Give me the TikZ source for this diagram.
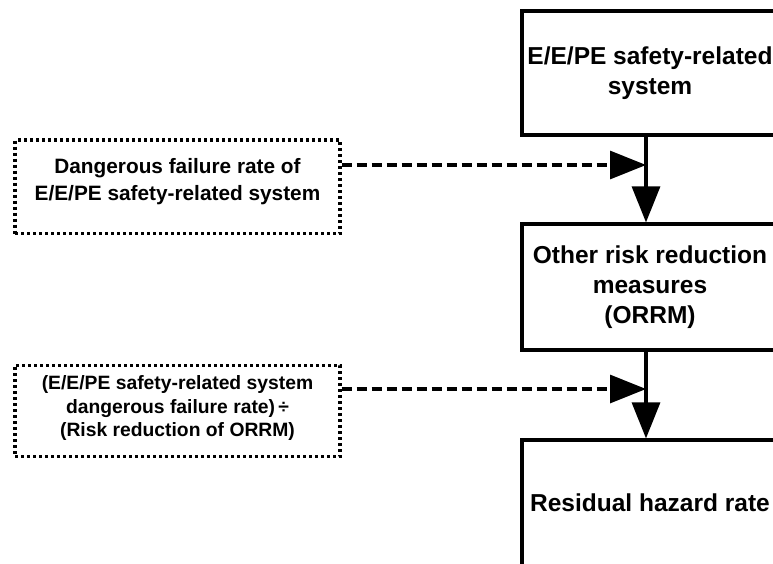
\documentclass[tikz,border=0pt]{standalone}
\usepackage{fontspec}
\setmainfont{Liberation Sans}
\usetikzlibrary{arrows.meta}

\begin{document}
\begin{tikzpicture}[x=1pt,y=-1pt,
  stagebox/.style={draw, line width=3.2pt, minimum width=256pt, inner sep=0pt,
    align=center, font=\bfseries\fontsize{24.5}{30}\selectfont},
  ratebox/.style={draw, line width=3.2pt, dash pattern=on 3pt off 3pt,
    minimum width=325pt, inner sep=0pt},
  ratetext/.style={align=center, inner sep=0pt},
  flow/.style={line width=3.2pt, -{Triangle[length=36pt,width=28pt]}},
  feed/.style={flow, dash pattern=on 10pt off 5pt}]

\useasboundingbox (0,0) rectangle (773,563);
\clip (0,0) rectangle (773,563);

% main chain of stages
\node[stagebox, minimum height=124pt] (sys)  at (650,73)
  {E/E/PE safety-related\\system};
\node[stagebox, minimum height=126pt] (orrm) at (650,287)
  {Other risk reduction\\measures\\(ORRM)};
\node[stagebox, minimum height=140pt] (res)  at (650,510)
  {\raisebox{15pt}{Residual hazard rate}};

% rates fed into the chain
\node[ratebox, minimum height=93.5pt] (rateA) at (177.5,186.75) {};
\node[ratetext, font=\bfseries\fontsize{20.8}{27}\selectfont] (txtA) at (177.5,181.5)
  {Dangerous failure rate of\\E/E/PE safety-related system};

\node[ratebox, minimum height=91.7pt] (rateB) at (177.5,411) {};
\node[ratetext, font=\bfseries\fontsize{19.3}{23.5}\selectfont] (txtB) at (177.5,408)
  {(E/E/PE safety-related system\\dangerous failure rate)\,÷\\(Risk reduction of ORRM)};

% junctions on the vertical flow line
\coordinate (spine) at (646,0);
\coordinate (jA) at (646,165);
\coordinate (jB) at (646,389);

\draw[flow] (sys.south -| spine) -- (orrm.north -| spine);
\draw[flow] (orrm.south -| spine) -- (res.north -| spine);

\draw[feed] (rateA.east |- jA) -- (jA);
\draw[feed] (rateB.east |- jB) -- (jB);
\end{tikzpicture}
\end{document}
